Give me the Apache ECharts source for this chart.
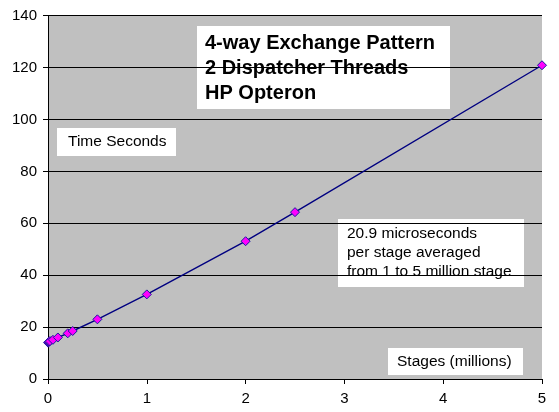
<!DOCTYPE html>
<html>
<head>
<meta charset="utf-8">
<script src="https://cdn.jsdelivr.net/npm/echarts@6/dist/echarts.min.js"></script>
<style>html,body{margin:0;padding:0;background:#fff;}#c{width:559px;height:412px;}</style>
</head>
<body>
<div id="c"></div>
<script>
const stages = [0.001, 0.005, 0.01, 0.02, 0.05, 0.1, 0.2, 0.25, 0.5, 1, 2, 2.5, 5];
const seconds = [14.0, 14.2, 14.4, 14.6, 15.1, 16.0, 17.6, 18.5, 23.0, 32.6, 53.1, 64.3, 120.9];
const xTicks = [0, 1, 2, 3, 4, 5];
const yTicks = [0, 20, 40, 60, 80, 100, 120, 140];
const titleLines = ['4-way Exchange Pattern', '2 Dispatcher Threads', 'HP Opteron'];
const noteLines = ['20.9 microseconds', 'per stage averaged', 'from 1 to 5 million stage'];
const yLabel = 'Time Seconds';
const xLabel = 'Stages (millions)';

const font = '"Liberation Sans", Arial, sans-serif';
const chart = echarts.init(document.getElementById('c'), null, {renderer: 'canvas'});

function box(x, y, w, h, lines, fontSize, bold, lineHeight, padX, padY) {
  return {
    type: 'group', left: x, top: y, z: 100,
    children: [
      {type: 'rect', shape: {x: 0, y: 0, width: w, height: h}, style: {fill: '#fff'}},
      {type: 'text', x: padX, y: padY, style: {
        text: lines.join('\n'), fill: '#000', font: (bold ? 'bold ' : '') + fontSize + 'px ' + font,
        lineHeight: lineHeight, textVerticalAlign: 'top'
      }}
    ]
  };
}

chart.setOption({
  animation: false,
  backgroundColor: '#fff',
  grid: {left: 48, right: 17, top: 15.7, bottom: 33, show: true, backgroundColor: '#C0C0C0', borderWidth: 0},
  xAxis: {
    type: 'value', min: xTicks[0], max: xTicks[xTicks.length - 1], interval: 1,
    axisLine: {show: true, onZero: false, lineStyle: {color: '#000', width: 1}},
    axisTick: {show: true, length: 5, lineStyle: {color: '#000'}},
    axisLabel: {color: '#000', fontSize: 15, fontFamily: font, margin: 12},
    splitLine: {show: false}
  },
  yAxis: {
    type: 'value', min: yTicks[0], max: yTicks[yTicks.length - 1], interval: 20,
    axisLine: {show: true, lineStyle: {color: '#000', width: 1}},
    axisTick: {show: true, length: 5, lineStyle: {color: '#000'}},
    axisLabel: {color: '#000', fontSize: 15, fontFamily: font, margin: 11},
    splitLine: {show: true, lineStyle: {color: '#000', width: 1}}
  },
  series: [{
    type: 'line',
    data: stages.map((s, i) => [s, seconds[i]]),
    symbol: 'diamond', symbolSize: 9, showAllSymbol: true,
    lineStyle: {color: '#000080', width: 1.4},
    itemStyle: {color: '#FF00FF', borderColor: '#1a1aa0', borderWidth: 1},
    z: 5
  }],
  graphic: [
    box(197, 26, 253, 83, titleLines, 20, true, 25, 8, 5),
    box(57, 128, 119, 28, [yLabel], 15.5, false, 16, 11, 6),
    box(338, 219, 186, 68, noteLines, 15.5, false, 19, 9, 5.5),
    box(388, 348, 135, 27, [xLabel], 15.5, false, 16, 9, 6)
  ]
});
</script>
</body>
</html>
